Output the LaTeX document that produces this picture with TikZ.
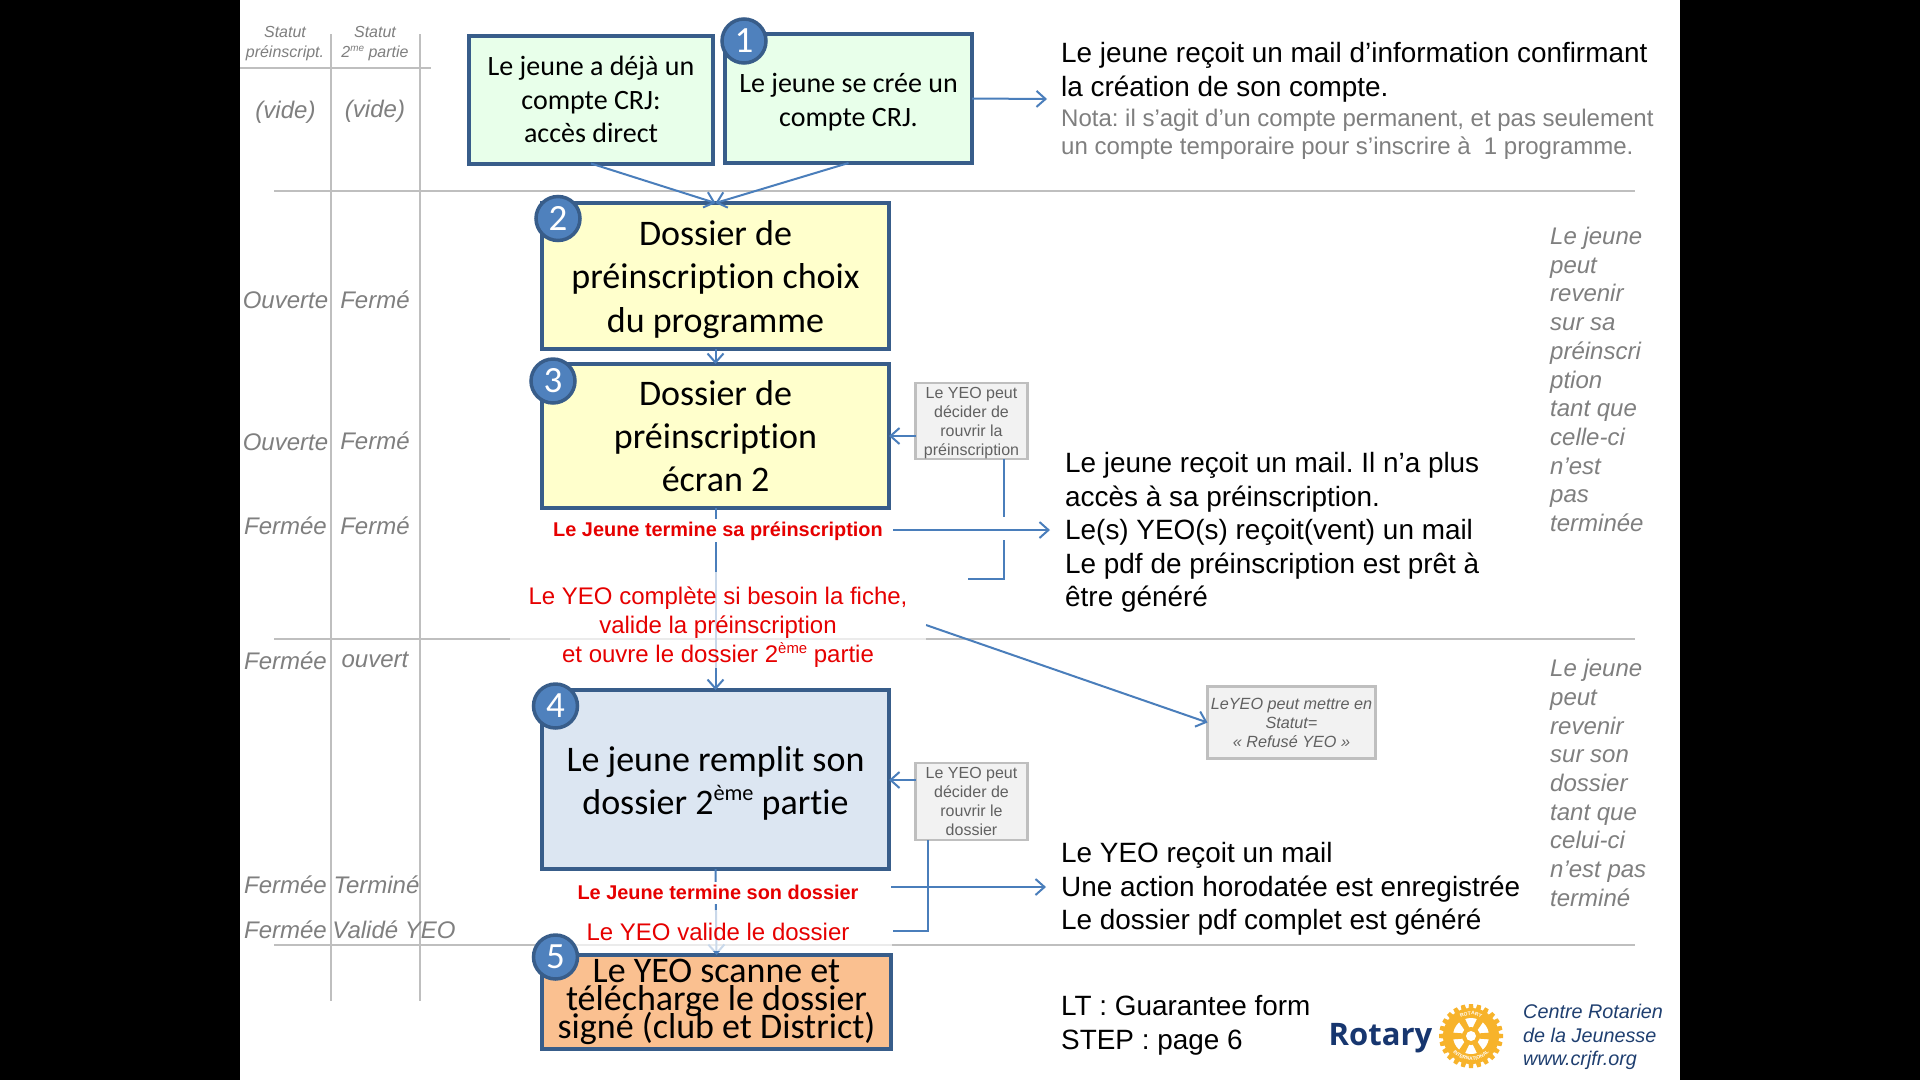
\documentclass[tikz,border=0pt]{standalone}
\usepackage{fontspec}
\setmainfont{Liberation Sans}
\newfontfamily\boxfont[Ligatures=NoCommon]{Carlito}
\newfontfamily\logofont{Open Sans}
\usetikzlibrary{arrows.meta,decorations.text}
\definecolor{edgeblue}{HTML}{385D8A}
\definecolor{badgeblue}{HTML}{4F81BD}
\definecolor{arrowblue}{HTML}{4A7EBB}
\definecolor{greenbox}{HTML}{E8FFEA}
\definecolor{yellowbox}{HTML}{FFFFCC}
\definecolor{bluebox}{HTML}{DCE6F2}
\definecolor{orangebox}{HTML}{FAC090}
\definecolor{graytext}{HTML}{7F7F7F}
\definecolor{grayline}{HTML}{BFBFBF}
\definecolor{redtext}{HTML}{E60000}
\definecolor{navytext}{HTML}{1F3F70}
\definecolor{rotarygold}{HTML}{F7B32B}
\definecolor{rotarynavy}{HTML}{17366F}
\newcommand\supr[1]{\raisebox{0.38em}{\scalebox{.62}{#1}}}
\newcommand\fsz[2]{\fontsize{#1}{#2}\selectfont}
\frenchspacing
\lineskiplimit=-100pt
\tikzset{
  flowbox/.style={draw=edgeblue,line width=4pt,align=center,inner sep=0pt,outer sep=0pt,text=black},
  badge/.style={circle,draw=edgeblue,fill=badgeblue,line width=3.5pt,minimum size=44pt,inner sep=0pt,text=white,font=\boxfont\fsz{37}{37}},
  notebox/.style={draw=grayline,fill=black!5,line width=2.5pt,align=center,inner sep=0pt,outer sep=0pt,text=black!62,font=\fsz{16}{19}},
  conn/.style={draw=arrowblue,line width=2pt},
  arr/.style={conn,-{Straight Barb[length=9pt,width=16pt]}},
  rule/.style={draw=grayline,line width=2.6pt},
  statut/.style={text=graytext,font=\itshape\fsz{24}{24},inner sep=0pt},
  head/.style={text=graytext,font=\itshape\fsz{16}{20},inner sep=0pt,align=center},
  sidenote/.style={text=graytext,font=\itshape\fsz{24}{28.7},inner sep=0pt,align=left,anchor=west},
  body/.style={text=black,font=\fsz{27.9}{33.6},inner sep=0pt,align=left,anchor=west},
  redlabel/.style={text=redtext,align=center,inner sep=0pt,outer sep=0pt},
}
\begin{document}
\begin{tikzpicture}[x=1pt,y=-1pt]
\useasboundingbox (0,0) rectangle (1920,1080);
\fill[black] (0,0) rectangle (1920,1080);
\fill[white] (240,0) rectangle (1680,1080);

% grey rules
\draw[rule] (331,34) -- (331,1001);
\draw[rule] (420,34) -- (420,1001);
\draw[rule] (240,68) -- (431,68);
\draw[rule] (274,191) -- (1635,191);
\draw[rule] (274,639) -- (1635,639);
\draw[rule] (274,945) -- (1635,945);

% coordinates for free ends
\coordinate (tipa) at (1047,99);
\coordinate (tipb) at (1050,530);
\coordinate (tipc) at (1046,887);
\coordinate (gapa) at (1004,517);
\coordinate (gapb) at (1004,540);
\coordinate (gapc) at (1004,579);
\coordinate (gapd) at (968,579);
\coordinate (refa) at (926,625);
\coordinate (midc) at (928,931);
\coordinate (startb) at (893,530);
\coordinate (startc) at (891,887);
\coordinate (endc) at (893,931);

% boxes
\node[flowbox,minimum width=244pt,minimum height=128pt,fill=greenbox,font=\boxfont\fsz{28}{33.5}] (boxa) at (591,99.5) {Le jeune a déjà un\\compte CRJ:\\accès direct};
\node[flowbox,minimum width=247pt,minimum height=129pt,fill=greenbox,font=\boxfont\fsz{28}{33.5}] (boxb) at (848.5,98.5) {\rule{0pt}{26.5pt}Le jeune se crée un\\compte CRJ.};
\node[flowbox,minimum width=347pt,minimum height=146pt,fill=yellowbox,font=\boxfont\fsz{36}{43.3}] (boxc) at (715.5,276) {\rule{0pt}{32pt}Dossier de\\préinscription choix\\du programme};
\node[flowbox,minimum width=347pt,minimum height=144pt,fill=yellowbox,font=\boxfont\fsz{36}{43}] (boxd) at (715.5,436) {Dossier de\\préinscription\\écran 2};
\node[notebox,minimum width=112pt,minimum height=76pt] (yeoa) at (971.5,421) {\rule{0pt}{16pt}Le YEO peut\\décider de\\rouvrir la\\préinscription};
\node[notebox,minimum width=112pt,minimum height=77pt] (yeob) at (971.5,801.5) {Le YEO peut\\décider de\\rouvrir le\\dossier};
\node[notebox,minimum width=168pt,minimum height=72pt,font=\itshape\fsz{16.2}{19}] (refus) at (1291.5,722.5) {LeYEO peut mettre en\\Statut=\\« Refusé YEO »};
\node[flowbox,minimum width=347pt,minimum height=179pt,fill=bluebox,font=\boxfont\fsz{36}{43}] (boxe) at (715.5,779.5) {\rule{0pt}{33pt}Le jeune remplit son\\dossier 2\supr{ème} partie};
\node[flowbox,minimum width=349pt,minimum height=94pt,fill=orangebox,font=\boxfont\fsz{36}{28}] (boxf) at (716.5,1002) {Le YEO scanne et\\télécharge le dossier\\signé (club et District)};

% connectors
\draw[arr] (boxa.south) -- (boxc.north);
\draw[arr] (boxb.south) -- (boxc.north);
\draw[arr] (boxb.east) -- (tipa);
\draw[arr] (boxc.south) -- (boxd.north);
\draw[arr] (yeoa.west |- boxd.east) -- (boxd.east);
\draw[conn] (yeoa.south -| gapa) -- (gapa);
\draw[conn] (gapb) -- (gapc) -- (gapd);
\draw[arr] (startb) -- (tipb);
\draw[arr] (refa) -- (refus.west);
\draw[arr] (boxd.south) -- (boxe.north);
\draw[arr] (yeob.west |- 0,780) -- (boxe.east |- 0,780);
\draw[arr] (startc) -- (tipc);
\draw[conn] (yeob.south -| midc) -- (midc) -- (endc);
\draw[arr] (boxe.south) -- (boxf.north);

% white backings of the red labels
\fill[white] (557,519) rectangle (880,542);
\fill[white,opacity=.7] (510,572) rectangle (926,668);
\fill[white] (572,882) rectangle (880,904);
\fill[white,opacity=.7] (545,910) rectangle (892,951);

% red labels
\node[redlabel,font=\bfseries\fsz{19.9}{22}] (lbla) at (718,531) {Le Jeune termine sa préinscription};
\node[redlabel,font=\fsz{24}{29}] (lblb) at (718,627.5) {Le YEO complète si besoin la fiche,\\valide la préinscription\\et ouvre le dossier 2\supr{ème} partie};
\node[redlabel,font=\bfseries\fsz{19.9}{22}] (lblc) at (718,892) {Le Jeune termine son dossier};
\node[redlabel,font=\fsz{24}{26}] (lbld) at (718,932) {Le YEO valide le dossier};

% badges
\node[badge] (numa) at (744,41) {1};
\node[badge] (numb) at (558,218.5) {2};
\node[badge] (numc) at (553,381) {3};
\node[badge] (numd) at (555.5,706) {4};
\node[badge] (nume) at (555.5,957) {5};

% status columns
\node[head] (ha) at (285,44) {Statut\\préinscript.};
\node[head] (hb) at (375,44) {Statut\\2\supr{me} partie};
\node[statut] (sa1) at (285.5,112) {(vide)};
\node[statut] (sb1) at (375,111) {(vide)};
\node[statut] (sa2) at (285.5,300) {Ouverte};
\node[statut] (sb2) at (375,300) {Fermé};
\node[statut] (sa3) at (285.5,442) {Ouverte};
\node[statut] (sb3) at (375,441) {Fermé};
\node[statut] (sa4) at (285.5,526) {Fermée};
\node[statut] (sb4) at (375,526) {Fermé};
\node[statut] (sa5) at (285.5,661) {Fermée};
\node[statut] (sb5) at (375,660) {ouvert};
\node[statut] (sa6) at (285.5,885) {Fermée};
\node[statut] (sb6) at (376.5,885) {Terminé};
\node[statut] (sa7) at (285.5,930) {Fermée};
\node[statut] (sb7) at (394,930) {Validé YEO};

% body texts
\node[body] (ta) at (1061,72) {Le jeune reçoit un mail d’information confirmant\\la création de son compte.};
\node[body,text=graytext,font=\fsz{24}{28.5}] (tb) at (1061,134.5) {Nota: il s’agit d’un compte permanent, et pas seulement\\un compte temporaire pour s’inscrire à\ \ 1 programme.};
\node[body] (tc) at (1065,532.5) {Le jeune reçoit un mail. Il n’a plus\\accès à sa préinscription.\\Le(s) YEO(s) reçoit(vent) un mail\\Le pdf de préinscription est prêt à\\être généré};
\node[body] (td) at (1061,889) {Le YEO reçoit un mail\\Une action horodatée est enregistrée\\Le dossier pdf complet est généré};
\node[body] (te) at (1061,1025) {LT : Guarantee form\\STEP : page 6};

% side notes
\node[sidenote] (na) at (1550,379.5) {Le jeune\\peut\\revenir\\sur sa\\préinscri\\ption\\tant que\\celle-ci\\n’est\\pas\\terminée};
\node[sidenote] (nb) at (1550,783) {Le jeune\\peut\\revenir\\sur son\\dossier\\tant que\\celui-ci\\n’est pas\\terminé};

% logo
\node[inner sep=0pt,text=rotarynavy,font=\logofont\bfseries\fsz{31}{31}] (rot) at (1380.5,1038) {Rotary};
\begin{scope}[shift={(1471,1036)}]
  \foreach \a in {0,15,...,345}{
    \fill[rotarygold,rotate=\a] (-2.8pt,24pt) -- (-2pt,32pt) -- (2pt,32pt) -- (2.8pt,24pt) -- cycle;
  }
  \fill[rotarygold] (0pt,0pt) circle[radius=28pt];
  \fill[white] (0pt,0pt) circle[radius=18pt];
  \foreach \a in {30,90,...,330}{
    \fill[rotarygold,rotate=\a] (-2pt,0pt) -- (-3.4pt,18.5pt) -- (3.4pt,18.5pt) -- (2pt,0pt) -- cycle;
  }
  \fill[rotarygold] (0pt,0pt) circle[radius=9pt];
  \fill[white] (0pt,0pt) circle[radius=5pt];
  \path[decorate,decoration={text along path,text align=center,text={|\fsz{5}{5}\bfseries\color{white}|ROTARY}}] (150:21pt) arc[start angle=150,end angle=30,radius=21pt];
  \path[decorate,decoration={text along path,text align=center,text={|\fsz{5}{5}\bfseries\color{white}|INTERNATIONAL}}] (205:24.5pt) arc[start angle=205,end angle=335,radius=24.5pt];
\end{scope}
\node[inner sep=0pt,text=navytext,align=left,anchor=west,font=\itshape\fsz{19.8}{23.7}] (crj) at (1523,1037) {Centre Rotarien\\de la Jeunesse\\www.crjfr.org};
\end{tikzpicture}
\end{document}
